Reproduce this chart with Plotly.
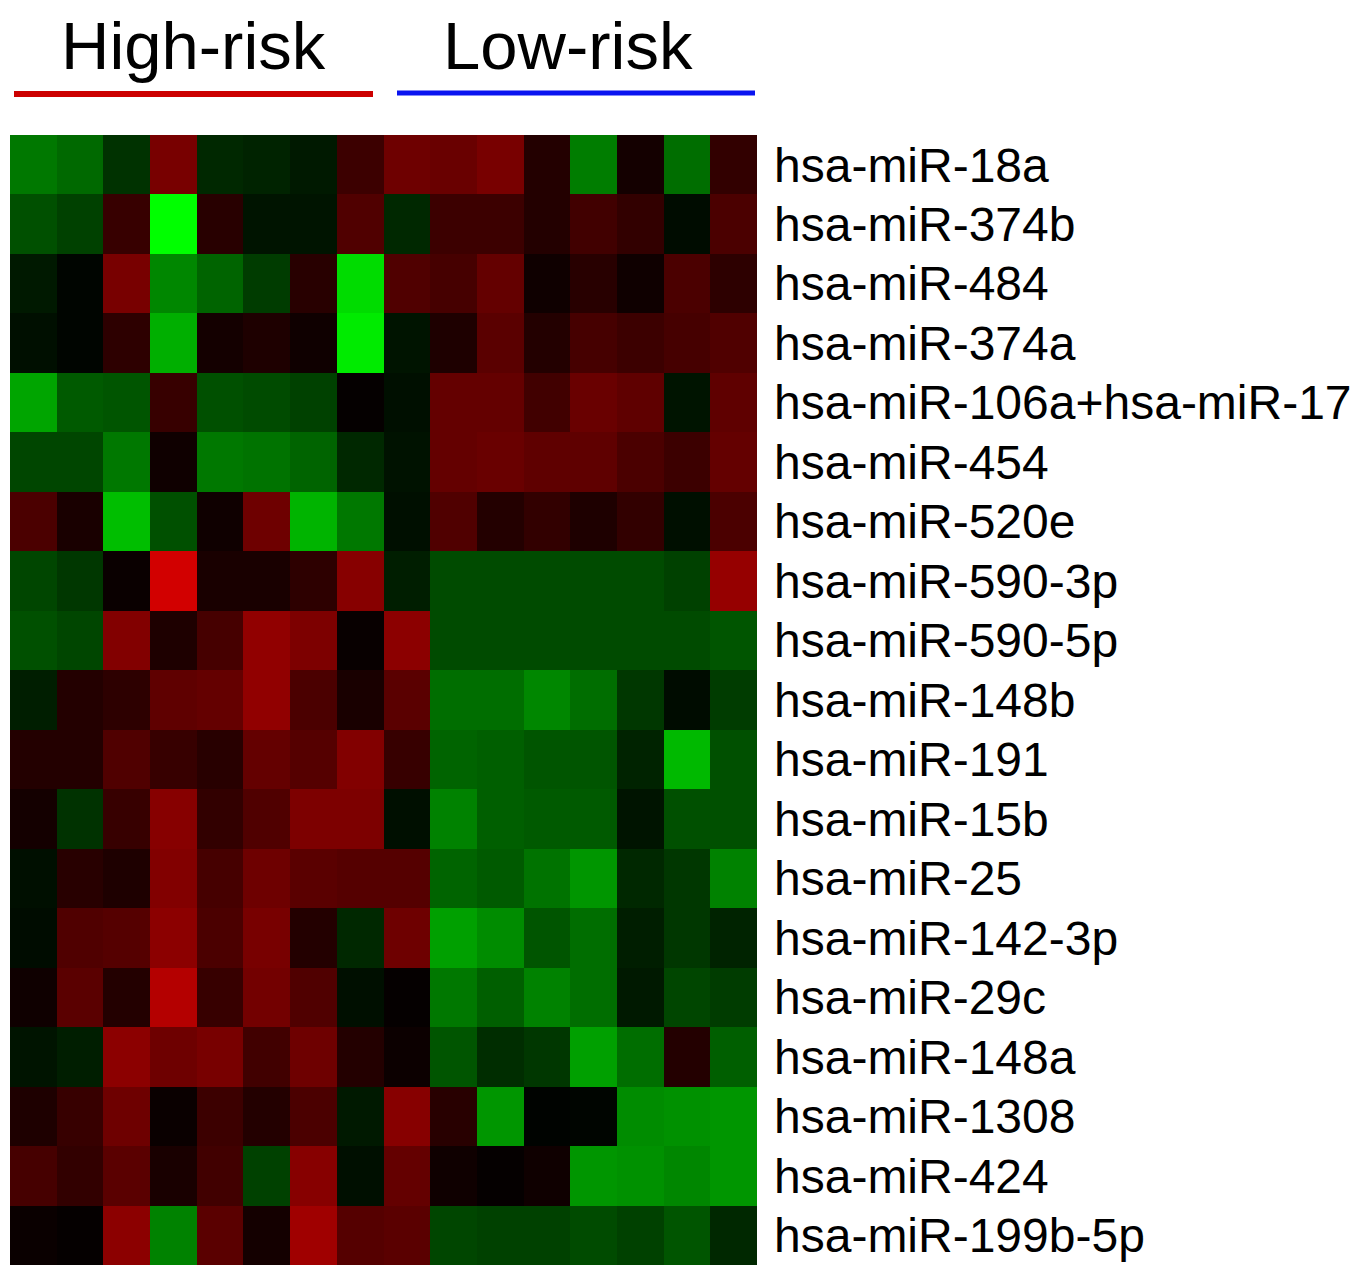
import plotly.graph_objects as go

# Row labels (top to bottom)
mirnas = [
    "hsa-miR-18a", "hsa-miR-374b", "hsa-miR-484", "hsa-miR-374a",
    "hsa-miR-106a+hsa-miR-17", "hsa-miR-454", "hsa-miR-520e", "hsa-miR-590-3p",
    "hsa-miR-590-5p", "hsa-miR-148b", "hsa-miR-191", "hsa-miR-15b",
    "hsa-miR-25", "hsa-miR-142-3p", "hsa-miR-29c", "hsa-miR-148a",
    "hsa-miR-1308", "hsa-miR-424", "hsa-miR-199b-5p",
]

# Samples: 8 high-risk followed by 8 low-risk
samples = ["H1", "H2", "H3", "H4", "H5", "H6", "H7", "H8",
           "L1", "L2", "L3", "L4", "L5", "L6", "L7", "L8"]

group_labels = ["High-risk", "Low-risk"]

# Expression (positive = red / up, negative = green / down), scale -255..255
r01 = [-120, -105, -50, 120, -40, -35, -25, 60, 110, 105, 120, 35, -125, 20, -110, 50]
r02 = [-80, -65, 55, -255, 40, -20, -20, 80, -40, 60, 60, 35, 65, 50, -12, 75]
r03 = [-25, -5, 120, -135, -100, -60, 40, -220, 80, 70, 100, 15, 40, 15, 75, 45]
r04 = [-15, -5, 45, -175, 20, 30, 15, -235, -20, 30, 90, 35, 70, 60, 70, 80]
r05 = [-165, -90, -85, 55, -80, -75, -65, 5, -15, 100, 100, 65, 105, 95, -20, 95]
r06 = [-70, -70, -120, 15, -120, -115, -100, -40, -18, 100, 105, 95, 95, 75, 60, 100]
r07 = [75, 25, -190, -80, 15, 110, -180, -120, -15, 80, 35, 50, 30, 50, -15, 75]
r08 = [-70, -55, 10, 210, 25, 25, 45, 135, -30, -75, -75, -75, -75, -75, -65, 150]
r09 = [-80, -70, 130, 30, 70, 145, 125, 8, 140, -75, -75, -75, -75, -75, -75, -85]
r10 = [-30, 35, 45, 95, 100, 145, 75, 25, 90, -110, -110, -135, -110, -55, -12, -60]
r11 = [35, 35, 80, 55, 40, 100, 85, 130, 55, -100, -95, -85, -85, -35, -185, -80]
r12 = [20, -50, 55, 135, 50, 80, 125, 125, -15, -130, -95, -90, -90, -20, -80, -80]
r13 = [-15, 40, 30, 130, 70, 110, 90, 85, 85, -100, -90, -115, -150, -40, -55, -130]
r14 = [-12, 80, 85, 140, 75, 120, 35, -40, 110, -160, -140, -85, -110, -30, -55, -35]
r15 = [15, 90, 35, 180, 55, 115, 80, -15, 5, -120, -95, -130, -110, -25, -70, -60]
r16 = [-20, -30, 140, 110, 120, 65, 110, 35, 12, -85, -45, -55, -160, -110, 35, -95]
r17 = [30, 55, 110, 10, 60, 35, 75, -25, 135, 40, -150, -3, -5, -140, -145, -150]
r18 = [70, 50, 90, 25, 65, -65, 135, -15, 100, 15, 5, 15, -150, -145, -135, -150]
r19 = [10, 5, 140, -130, 90, 20, 160, 85, 90, -70, -65, -65, -75, -65, -85, -40]

values = [r01, r02, r03, r04, r05, r06, r07, r08, r09, r10,
          r11, r12, r13, r14, r15, r16, r17, r18, r19]

# ---- layout geometry ----
OFF = 8                       # default page body margin
FW, FH = 1352, 1259           # figure size
L, R, T, B = 10, 757, 135, 1265  # plot-area edges on the page (screen px)


def px(x):
    return (x - L) / (R - L)


def py(y):
    return (B - y) / (B - T)


fig = go.Figure(
    go.Heatmap(
        z=values,
        x=samples,
        y=mirnas,
        zmin=-255,
        zmax=255,
        colorscale=[[0.0, "#00ff00"], [0.5, "#000000"], [1.0, "#ff0000"]],
        showscale=False,
        xgap=0,
        ygap=0,
    )
)

label_font = "Liberation Sans, Arial, sans-serif"

fig.update_layout(
    width=FW,
    height=FH,
    margin=dict(l=L - OFF, r=FW - (R - OFF), t=T - OFF, b=FH - (B - OFF),
                pad=0, autoexpand=False),
    paper_bgcolor="white",
    plot_bgcolor="white",
    xaxis=dict(showticklabels=False, ticks="", showgrid=False, zeroline=False,
               showline=False),
    yaxis=dict(side="right", autorange="reversed", ticks="", showgrid=False,
               zeroline=False, showline=False, ticklabelstandoff=16,
               tickmode="array", tickvals=mirnas, ticktext=mirnas,
               tickfont=dict(family=label_font, size=48, color="black")),
    showlegend=False,
)

# Group headers and underline bars
fig.add_annotation(x=px(193), y=py(45), xref="paper", yref="paper",
                   text=group_labels[0], showarrow=False,
                   font=dict(family=label_font, size=67, color="black"),
                   xanchor="center", yanchor="middle")
fig.add_annotation(x=px(568), y=py(45), xref="paper", yref="paper",
                   text=group_labels[1], showarrow=False,
                   font=dict(family=label_font, size=67, color="black"),
                   xanchor="center", yanchor="middle")
fig.add_shape(type="line", xref="paper", yref="paper",
              x0=px(14), x1=px(373), y0=py(94), y1=py(94),
              line=dict(color="#cc0000", width=6))
fig.add_shape(type="line", xref="paper", yref="paper",
              x0=px(397), x1=px(755), y0=py(93), y1=py(93),
              line=dict(color="#0a14f0", width=5))

fig.write_html("out.html")
